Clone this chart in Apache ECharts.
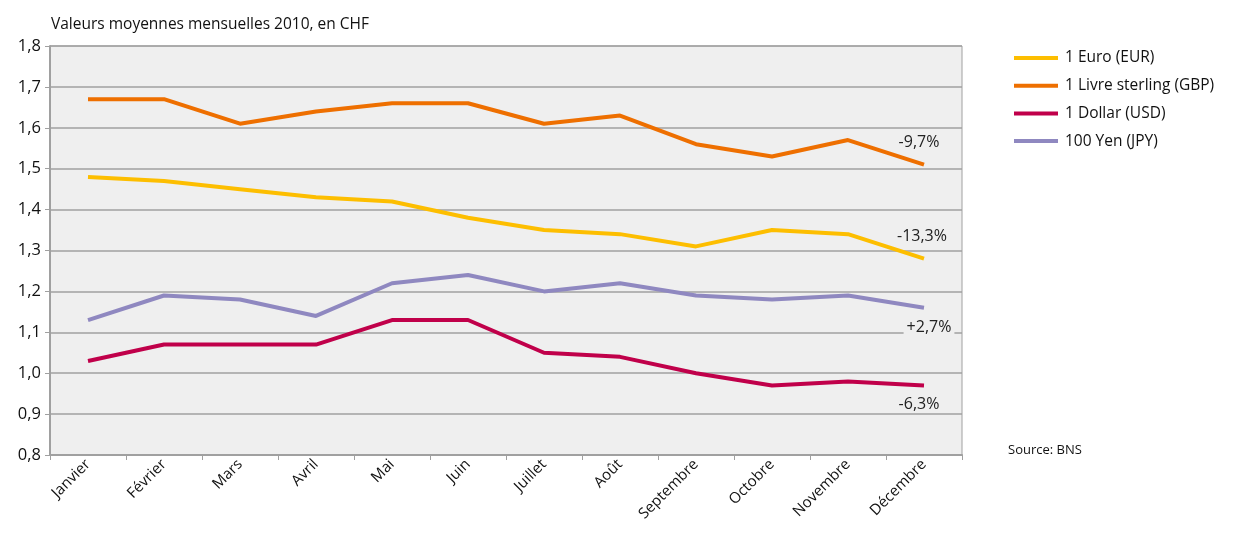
<!DOCTYPE html>
<html><head><meta charset="utf-8">
<script src="https://cdn.jsdelivr.net/npm/echarts@6/dist/echarts.min.js"></script>
<style>html,body{margin:0;padding:0;background:#fff}#c{width:1234px;height:539px}</style>
</head><body><div id="c"></div>
<script>
const months = ['Janvier','Février','Mars','Avril','Mai','Juin','Juillet','Août','Septembre','Octobre','Novembre','Décembre'];
const eur = [1.48,1.47,1.45,1.43,1.42,1.38,1.35,1.34,1.31,1.35,1.34,1.28];
const gbp = [1.67,1.67,1.61,1.64,1.66,1.66,1.61,1.63,1.56,1.53,1.57,1.51];
const usd = [1.03,1.07,1.07,1.07,1.13,1.13,1.05,1.04,1.00,0.97,0.98,0.97];
const jpy = [1.13,1.19,1.18,1.14,1.22,1.24,1.20,1.22,1.19,1.18,1.19,1.16];
const names = ['1 Euro (EUR)','1 Livre sterling (GBP)','1 Dollar (USD)','100 Yen (JPY)'];
const changes = ['-13,3%','-9,7%','-6,3%','+2,7%'];
const colors = ['#FDBE00','#EE6F00','#C0004A','#8F88C0'];
const FONT = '"Open Sans", "Noto Sans", sans-serif';
const labelOffsets = [[-2,-22],[-5,-22],[-5,19],[5,20]];

function mk(i, arr){
  return {
    name: names[i], type:'line', data: arr,
    symbol:'none', lineStyle:{width:4, color:colors[i]}, itemStyle:{color:colors[i]},
    endLabel:{show:true, formatter:changes[i], distance:0, align:'center', verticalAlign:'middle',
      offset:labelOffsets[i], color:'#222', fontSize:16, fontFamily:FONT,
      backgroundColor: i===3 ? '#efefef' : 'transparent', padding:[0,3]},
    animation:false, z: 3
  };
}

const chart = echarts.init(document.getElementById('c'));
chart.setOption({
  animation:false,
  title:{text:'Valeurs moyennes mensuelles 2010, en CHF', left:46, top:12,
    textStyle:{fontSize:15.5, fontWeight:'normal', color:'#111', fontFamily:FONT}},
  legend:{orient:'vertical', left:1009, top:45, itemWidth:44, itemHeight:4, itemGap:11.7,
    icon:'rect', textStyle:{fontSize:15.5, color:'#111', fontFamily:FONT, padding:[0,0,0,2]},
    data:[names[0],names[1],names[2],names[3]]},
  graphic:[{type:'text', left:1008, top:444, style:{text:'Source: BNS', fontSize:13, fill:'#111', fontFamily:FONT}}],
  grid:{left:50, right:272, top:46, bottom:84, show:true, backgroundColor:'#efefef', borderColor:'#a0a0a0', borderWidth:1},
  xAxis:{type:'category', data:months, boundaryGap:true,
    axisLine:{lineStyle:{color:'#a0a0a0', width:2}},
    axisTick:{show:true, length:5, lineStyle:{color:'#a0a0a0'}},
    axisLabel:{rotate:45, fontSize:15, color:'#111', fontFamily:FONT, margin:7}},
  yAxis:{type:'value', min:0.8, max:1.8, interval:0.1,
    axisLine:{show:true, lineStyle:{color:'#a0a0a0', width:2}},
    axisTick:{show:true, inside:false, length:5, lineStyle:{color:'#a0a0a0'}},
    splitLine:{lineStyle:{color:'#a0a0a0', width:1.5}},
    axisLabel:{fontSize:16.5, color:'#111', fontFamily:FONT, margin:9,
      formatter:v=>v.toFixed(1).replace('.',',')}},
  series:[mk(0,eur), mk(1,gbp), mk(2,usd), mk(3,jpy)]
});
</script></body></html>
